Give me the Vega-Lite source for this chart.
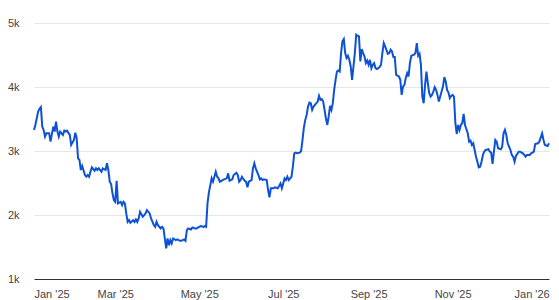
{
  "$schema": "https://vega.github.io/schema/vega-lite/v6.json",
  "autosize": "none",
  "width": 515,
  "height": 256,
  "padding": {"left": 34, "top": 23, "right": 10, "bottom": 21},
  "config": {"view": {"stroke": null}, "font": "Liberation Sans"},
  "data": {"values": [
    {"d":"2025-01-01","v":3329},{"d":"2025-01-02","v":3407},{"d":"2025-01-04","v":3616},{"d":"2025-01-05","v":3658},{"d":"2025-01-06","v":3685},{"d":"2025-01-07","v":3381},{"d":"2025-01-08","v":3329},{"d":"2025-01-09","v":3224},{"d":"2025-01-10","v":3277},{"d":"2025-01-12","v":3277},{"d":"2025-01-13","v":3146},{"d":"2025-01-15","v":3381},{"d":"2025-01-16","v":3303},{"d":"2025-01-17","v":3459},{"d":"2025-01-18","v":3303},{"d":"2025-01-19","v":3224},{"d":"2025-01-20","v":3303},{"d":"2025-01-22","v":3251},{"d":"2025-01-23","v":3318},{"d":"2025-01-24","v":3303},{"d":"2025-01-25","v":3318},{"d":"2025-01-27","v":3251},{"d":"2025-01-28","v":3094},{"d":"2025-01-30","v":3172},{"d":"2025-01-31","v":3287},
    {"d":"2025-02-01","v":3199},{"d":"2025-02-02","v":2886},{"d":"2025-02-03","v":2860},{"d":"2025-02-04","v":2703},{"d":"2025-02-05","v":2765},{"d":"2025-02-07","v":2625},{"d":"2025-02-08","v":2598},{"d":"2025-02-09","v":2625},{"d":"2025-02-10","v":2598},{"d":"2025-02-11","v":2676},{"d":"2025-02-12","v":2745},{"d":"2025-02-14","v":2692},{"d":"2025-02-15","v":2729},{"d":"2025-02-16","v":2703},{"d":"2025-02-17","v":2729},{"d":"2025-02-19","v":2676},{"d":"2025-02-20","v":2729},{"d":"2025-02-22","v":2703},{"d":"2025-02-23","v":2808},{"d":"2025-02-24","v":2703},{"d":"2025-02-25","v":2520},{"d":"2025-02-26","v":2484},{"d":"2025-02-27","v":2338},{"d":"2025-02-28","v":2233},
    {"d":"2025-03-01","v":2206},{"d":"2025-03-02","v":2535},{"d":"2025-03-03","v":2181},{"d":"2025-03-05","v":2206},{"d":"2025-03-06","v":2154},{"d":"2025-03-07","v":2206},{"d":"2025-03-08","v":2181},{"d":"2025-03-09","v":2025},{"d":"2025-03-10","v":1893},{"d":"2025-03-11","v":1920},{"d":"2025-03-12","v":1878},{"d":"2025-03-14","v":1920},{"d":"2025-03-15","v":1893},{"d":"2025-03-16","v":1931},{"d":"2025-03-17","v":1893},{"d":"2025-03-18","v":1946},{"d":"2025-03-19","v":2050},{"d":"2025-03-21","v":1972},{"d":"2025-03-22","v":1998},{"d":"2025-03-23","v":2025},{"d":"2025-03-24","v":2076},{"d":"2025-03-26","v":2025},{"d":"2025-03-27","v":1946},{"d":"2025-03-29","v":1842},{"d":"2025-03-30","v":1815},{"d":"2025-03-31","v":1893},
    {"d":"2025-04-01","v":1842},{"d":"2025-04-03","v":1790},{"d":"2025-04-04","v":1815},{"d":"2025-04-05","v":1790},{"d":"2025-04-06","v":1633},{"d":"2025-04-07","v":1477},{"d":"2025-04-08","v":1633},{"d":"2025-04-09","v":1528},{"d":"2025-04-10","v":1607},{"d":"2025-04-11","v":1555},{"d":"2025-04-12","v":1633},{"d":"2025-04-14","v":1607},{"d":"2025-04-15","v":1618},{"d":"2025-04-17","v":1596},{"d":"2025-04-18","v":1596},{"d":"2025-04-20","v":1618},{"d":"2025-04-21","v":1596},{"d":"2025-04-22","v":1763},{"d":"2025-04-23","v":1790},{"d":"2025-04-25","v":1774},{"d":"2025-04-26","v":1806},{"d":"2025-04-28","v":1790},{"d":"2025-04-29","v":1790},
    {"d":"2025-05-01","v":1815},{"d":"2025-05-02","v":1826},{"d":"2025-05-04","v":1815},{"d":"2025-05-05","v":1826},{"d":"2025-05-06","v":1815},{"d":"2025-05-07","v":2181},{"d":"2025-05-08","v":2350},{"d":"2025-05-10","v":2573},{"d":"2025-05-11","v":2520},{"d":"2025-05-13","v":2676},{"d":"2025-05-14","v":2598},{"d":"2025-05-15","v":2573},{"d":"2025-05-16","v":2520},{"d":"2025-05-18","v":2546},{"d":"2025-05-19","v":2557},{"d":"2025-05-21","v":2573},{"d":"2025-05-22","v":2651},{"d":"2025-05-23","v":2535},{"d":"2025-05-25","v":2557},{"d":"2025-05-26","v":2625},{"d":"2025-05-28","v":2661},{"d":"2025-05-29","v":2625},{"d":"2025-05-30","v":2520},{"d":"2025-05-31","v":2546},
    {"d":"2025-06-01","v":2598},{"d":"2025-06-03","v":2535},{"d":"2025-06-04","v":2520},{"d":"2025-06-05","v":2432},{"d":"2025-06-06","v":2520},{"d":"2025-06-08","v":2546},{"d":"2025-06-09","v":2729},{"d":"2025-06-10","v":2808},{"d":"2025-06-11","v":2729},{"d":"2025-06-13","v":2625},{"d":"2025-06-14","v":2557},{"d":"2025-06-15","v":2573},{"d":"2025-06-16","v":2546},{"d":"2025-06-17","v":2557},{"d":"2025-06-19","v":2546},{"d":"2025-06-20","v":2390},{"d":"2025-06-21","v":2275},{"d":"2025-06-22","v":2417},{"d":"2025-06-24","v":2417},{"d":"2025-06-25","v":2432},{"d":"2025-06-27","v":2417},{"d":"2025-06-28","v":2452},{"d":"2025-06-29","v":2494},{"d":"2025-06-30","v":2417},
    {"d":"2025-07-01","v":2494},{"d":"2025-07-02","v":2573},{"d":"2025-07-03","v":2546},{"d":"2025-07-04","v":2598},{"d":"2025-07-05","v":2546},{"d":"2025-07-06","v":2573},{"d":"2025-07-07","v":2598},{"d":"2025-07-08","v":2755},{"d":"2025-07-09","v":2964},{"d":"2025-07-10","v":2974},{"d":"2025-07-11","v":2964},{"d":"2025-07-13","v":2974},{"d":"2025-07-14","v":3000},{"d":"2025-07-15","v":3173},{"d":"2025-07-16","v":3370},{"d":"2025-07-17","v":3486},{"d":"2025-07-18","v":3564},{"d":"2025-07-19","v":3694},{"d":"2025-07-20","v":3757},{"d":"2025-07-21","v":3747},{"d":"2025-07-22","v":3642},{"d":"2025-07-23","v":3694},{"d":"2025-07-24","v":3720},{"d":"2025-07-26","v":3772},{"d":"2025-07-27","v":3862},{"d":"2025-07-28","v":3799},{"d":"2025-07-29","v":3810},{"d":"2025-07-30","v":3772},{"d":"2025-07-31","v":3642},
    {"d":"2025-08-01","v":3512},{"d":"2025-08-02","v":3407},{"d":"2025-08-03","v":3537},{"d":"2025-08-04","v":3705},{"d":"2025-08-05","v":3642},{"d":"2025-08-06","v":3747},{"d":"2025-08-07","v":3955},{"d":"2025-08-08","v":4112},{"d":"2025-08-09","v":4242},{"d":"2025-08-10","v":4258},{"d":"2025-08-11","v":4242},{"d":"2025-08-12","v":4530},{"d":"2025-08-13","v":4712},{"d":"2025-08-14","v":4749},{"d":"2025-08-15","v":4530},{"d":"2025-08-16","v":4452},{"d":"2025-08-17","v":4488},{"d":"2025-08-18","v":4425},{"d":"2025-08-19","v":4320},{"d":"2025-08-20","v":4112},{"d":"2025-08-21","v":4320},{"d":"2025-08-22","v":4530},{"d":"2025-08-23","v":4817},{"d":"2025-08-24","v":4801},{"d":"2025-08-25","v":4790},{"d":"2025-08-26","v":4400},{"d":"2025-08-27","v":4593},{"d":"2025-08-28","v":4530},{"d":"2025-08-29","v":4478},{"d":"2025-08-30","v":4374},{"d":"2025-08-31","v":4414},
    {"d":"2025-09-01","v":4347},{"d":"2025-09-02","v":4425},{"d":"2025-09-03","v":4295},{"d":"2025-09-04","v":4347},{"d":"2025-09-05","v":4374},{"d":"2025-09-06","v":4295},{"d":"2025-09-07","v":4280},{"d":"2025-09-08","v":4295},{"d":"2025-09-09","v":4311},{"d":"2025-09-10","v":4347},{"d":"2025-09-11","v":4530},{"d":"2025-09-12","v":4687},{"d":"2025-09-13","v":4634},{"d":"2025-09-15","v":4519},{"d":"2025-09-16","v":4530},{"d":"2025-09-17","v":4582},{"d":"2025-09-18","v":4555},{"d":"2025-09-19","v":4468},{"d":"2025-09-20","v":4468},{"d":"2025-09-21","v":4190},{"d":"2025-09-23","v":4164},{"d":"2025-09-24","v":4112},{"d":"2025-09-25","v":3877},{"d":"2025-09-26","v":4007},{"d":"2025-09-27","v":4034},{"d":"2025-09-28","v":4139},{"d":"2025-09-29","v":4217},{"d":"2025-09-30","v":4164},
    {"d":"2025-10-01","v":4374},{"d":"2025-10-02","v":4488},{"d":"2025-10-04","v":4504},{"d":"2025-10-05","v":4530},{"d":"2025-10-06","v":4687},{"d":"2025-10-07","v":4488},{"d":"2025-10-08","v":4519},{"d":"2025-10-09","v":4347},{"d":"2025-10-10","v":3851},{"d":"2025-10-11","v":3747},{"d":"2025-10-12","v":4034},{"d":"2025-10-13","v":4242},{"d":"2025-10-14","v":4060},{"d":"2025-10-15","v":3904},{"d":"2025-10-16","v":3851},{"d":"2025-10-17","v":3877},{"d":"2025-10-18","v":3929},{"d":"2025-10-19","v":3998},{"d":"2025-10-20","v":3955},{"d":"2025-10-21","v":3877},{"d":"2025-10-22","v":3772},{"d":"2025-10-23","v":3851},{"d":"2025-10-24","v":3929},{"d":"2025-10-25","v":4007},{"d":"2025-10-26","v":4154},{"d":"2025-10-27","v":4086},{"d":"2025-10-28","v":3955},{"d":"2025-10-29","v":3913},{"d":"2025-10-30","v":3826},{"d":"2025-10-31","v":3862},
    {"d":"2025-11-01","v":3877},{"d":"2025-11-02","v":3851},{"d":"2025-11-03","v":3434},{"d":"2025-11-04","v":3266},{"d":"2025-11-05","v":3407},{"d":"2025-11-06","v":3329},{"d":"2025-11-07","v":3407},{"d":"2025-11-08","v":3434},{"d":"2025-11-09","v":3580},{"d":"2025-11-10","v":3407},{"d":"2025-11-12","v":3277},{"d":"2025-11-13","v":3146},{"d":"2025-11-14","v":3162},{"d":"2025-11-15","v":3094},{"d":"2025-11-16","v":3121},{"d":"2025-11-17","v":3016},{"d":"2025-11-18","v":2911},{"d":"2025-11-19","v":2833},{"d":"2025-11-20","v":2745},{"d":"2025-11-21","v":2755},{"d":"2025-11-22","v":2833},{"d":"2025-11-23","v":2938},{"d":"2025-11-24","v":2990},{"d":"2025-11-25","v":3016},{"d":"2025-11-27","v":3027},{"d":"2025-11-28","v":2990},{"d":"2025-11-29","v":2974},{"d":"2025-11-30","v":2797},
    {"d":"2025-12-01","v":2990},{"d":"2025-12-02","v":3172},{"d":"2025-12-03","v":3146},{"d":"2025-12-04","v":3042},{"d":"2025-12-06","v":3027},{"d":"2025-12-07","v":3068},{"d":"2025-12-08","v":3277},{"d":"2025-12-09","v":3329},{"d":"2025-12-10","v":3251},{"d":"2025-12-11","v":3121},{"d":"2025-12-12","v":3068},{"d":"2025-12-13","v":3016},{"d":"2025-12-14","v":2938},{"d":"2025-12-15","v":2911},{"d":"2025-12-16","v":2833},{"d":"2025-12-17","v":2922},{"d":"2025-12-19","v":2990},{"d":"2025-12-20","v":2990},{"d":"2025-12-22","v":2964},{"d":"2025-12-23","v":2938},{"d":"2025-12-24","v":2911},{"d":"2025-12-25","v":2938},{"d":"2025-12-27","v":2938},{"d":"2025-12-28","v":2964},{"d":"2025-12-29","v":2974},{"d":"2025-12-30","v":2990},{"d":"2025-12-31","v":3110},
    {"d":"2026-01-02","v":3121},{"d":"2026-01-03","v":3146},{"d":"2026-01-05","v":3277},{"d":"2026-01-06","v":3172},{"d":"2026-01-07","v":3094},{"d":"2026-01-09","v":3079},{"d":"2026-01-10","v":3121}
  ]},
  "mark": {"type": "line", "color": "#0d52d6", "strokeWidth": 2, "interpolate": "linear"},
  "encoding": {
    "x": {
      "field": "d", "type": "temporal",
      "scale": {"type": "utc", "nice": false},
      "axis": {
        "title": null,
        "format": "%b '%y",
        "values": [
          {"year": 2025, "month": 1, "date": 1, "utc": true},
          {"year": 2025, "month": 3, "date": 1, "utc": true},
          {"year": 2025, "month": 5, "date": 1, "utc": true},
          {"year": 2025, "month": 7, "date": 1, "utc": true},
          {"year": 2025, "month": 9, "date": 1, "utc": true},
          {"year": 2025, "month": 11, "date": 1, "utc": true},
          {"year": 2026, "month": 1, "date": 1, "utc": true}
        ],
        "grid": false,
        "ticks": false,
        "domain": true,
        "domainColor": "#333333",
        "domainWidth": 1,
        "labelFontSize": 11,
        "labelColor": "#444444",
        "labelPadding": 9,
        "labelOffset": {"condition": {"test": "datum.value > utc(2025,11,15)", "value": -5}, "value": 0}
      }
    },
    "y": {
      "field": "v", "type": "quantitative",
      "scale": {"domain": [1000, 5000], "nice": false, "zero": false},
      "axis": {
        "title": null,
        "values": [1000, 2000, 3000, 4000, 5000],
        "format": "~s",
        "grid": true,
        "gridColor": "#e6e6e6",
        "gridWidth": 1,
        "ticks": false,
        "domain": false,
        "labelFontSize": 11,
        "labelColor": "#444444",
        "labelPadding": 15
      }
    }
  }
}
